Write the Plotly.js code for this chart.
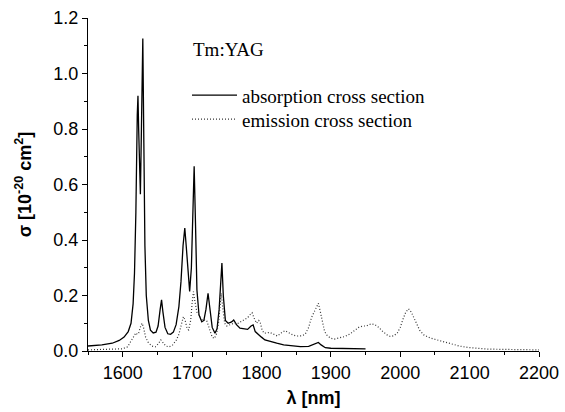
<!DOCTYPE html>
<html>
<head>
<meta charset="utf-8">
<script src="https://cdn.plot.ly/plotly-3.0.1.min.js"></script>
<style>html,body{margin:0;padding:0;background:#fff;}#chart{width:565px;height:412px;}</style>
</head>
<body>
<div id="chart"></div>
<script>
// Absorption cross section (wavelength nm, sigma 1e-20 cm^2)
const absWavelength = [1550,1570,1585,1595,1602,1608,1612,1615,1617,1619,1621,1622,1623,1625.5,1627,1629,1630.5,1632,1634,1637,1640,1644,1648,1651,1654,1656,1658,1661,1665,1669,1673,1677,1681,1684,1687,1689.5,1691.5,1694,1696.5,1699,1701,1703,1705,1707,1710,1714,1717,1720,1723,1726,1729,1733,1736,1739,1741,1743,1745,1748,1752,1757,1760,1764,1769,1775,1780,1785,1788,1791,1795,1800,1805,1812,1822,1832,1845,1856,1868,1876,1882,1886,1892,1900,1920,1935,1950];
const absSigma = [0.018,0.022,0.028,0.038,0.05,0.07,0.1,0.17,0.28,0.5,0.85,0.92,0.8,0.565,0.8,1.126,0.75,0.38,0.2,0.11,0.075,0.065,0.068,0.09,0.15,0.184,0.14,0.085,0.062,0.06,0.068,0.095,0.16,0.25,0.38,0.443,0.38,0.28,0.215,0.3,0.5,0.666,0.45,0.22,0.13,0.105,0.11,0.15,0.208,0.14,0.085,0.064,0.08,0.15,0.26,0.317,0.2,0.11,0.1,0.105,0.112,0.095,0.082,0.08,0.078,0.09,0.094,0.07,0.06,0.05,0.04,0.034,0.028,0.022,0.018,0.016,0.017,0.024,0.031,0.022,0.012,0.01,0.009,0.009,0.008];

// Emission cross section
const emWavelength = [1550,1580,1600,1607,1612,1616,1619,1621,1623,1626,1628,1630,1633,1637,1642,1647,1651,1655,1658,1662,1667,1672,1677,1681,1684,1687.5,1690,1693,1695,1698,1700,1702,1704,1707,1711,1715,1718,1721,1725,1729,1732,1735,1738,1740,1742,1744,1747,1750,1755,1760,1765,1770,1775,1780,1784,1786.5,1790,1793,1796,1798,1801,1804,1812,1818,1823,1829,1834,1840,1846,1852,1858,1863,1868,1872,1876,1880,1882,1885,1888,1891,1895,1900,1905,1912,1920,1928,1935,1940,1946,1951,1955,1959,1964,1969,1975,1981,1986,1991,1996,2000,2004,2008,2012,2016,2020,2024,2028,2034,2043,2053,2062,2072,2085,2097,2110,2125,2145,2170,2200];
const emSigma = [0.004,0.005,0.008,0.015,0.035,0.055,0.065,0.06,0.065,0.09,0.1,0.085,0.05,0.03,0.018,0.015,0.025,0.04,0.03,0.018,0.015,0.022,0.038,0.06,0.09,0.124,0.11,0.08,0.076,0.11,0.17,0.214,0.18,0.14,0.125,0.11,0.112,0.11,0.08,0.05,0.045,0.06,0.1,0.17,0.208,0.16,0.1,0.09,0.095,0.1,0.098,0.105,0.11,0.12,0.132,0.138,0.115,0.1,0.11,0.105,0.075,0.064,0.067,0.06,0.054,0.066,0.073,0.065,0.057,0.054,0.055,0.06,0.085,0.12,0.14,0.165,0.172,0.14,0.1,0.07,0.055,0.046,0.043,0.047,0.052,0.062,0.075,0.085,0.09,0.09,0.095,0.098,0.094,0.085,0.07,0.058,0.052,0.055,0.066,0.085,0.115,0.14,0.152,0.14,0.118,0.095,0.075,0.058,0.047,0.04,0.033,0.027,0.018,0.013,0.009,0.007,0.006,0.005,0.004];

const seriesNames = ["absorption cross section", "emission cross section"];
const xTickVals = [1600,1700,1800,1900,2000,2100,2200];
const yTickVals = [0.0,0.2,0.4,0.6,0.8,1.0,1.2];

const traces = [
  {x: absWavelength, y: absSigma, name: seriesNames[0], mode: 'lines', type: 'scatter',
   legend: 'legend', line: {color: '#000', width: 1.3}},
  {x: emWavelength, y: emSigma, name: seriesNames[1], mode: 'lines', type: 'scatter',
   legend: 'legend2', line: {color: '#333', width: 1.2, dash: '1px,2px'}}
];

const sans = 'Liberation Sans, Arial, sans-serif';
const serif = 'Liberation Serif, Times New Roman, serif';
const legendStyle = (y) => ({x: 0.2195, y: y, xanchor: 'left', yanchor: 'top',
           bgcolor: 'rgba(0,0,0,0)', borderwidth: 0,
           font: {family: serif, size: 19, color: '#000'},
           itemwidth: 45});

const layout = {
  width: 565, height: 412,
  margin: {l: 88, r: 26, t: 18, b: 61},
  paper_bgcolor: '#fff', plot_bgcolor: '#fff',
  showlegend: true,
  legend: legendStyle(0.825),
  legend2: legendStyle(0.753),
  xaxis: {range: [1550, 2200], tickvals: xTickVals, showgrid: false, zeroline: false,
          showline: true, linecolor: '#000', linewidth: 1,
          ticks: 'outside', ticklen: 5, tickcolor: '#000', tickwidth: 1,
          minor: {ticks: 'outside', ticklen: 3, dtick: 50, tick0: 1550, tickcolor: '#000', showgrid: false},
          tickfont: {family: sans, size: 18, color: '#000'},
          title: {text: '<b>λ [nm]</b>', font: {family: sans, size: 18, color: '#000'}, standoff: 9}},
  yaxis: {range: [0, 1.2], tickvals: yTickVals, tickformat: '.1f', showgrid: false, zeroline: false,
          showline: true, linecolor: '#000', linewidth: 1,
          ticks: 'outside', ticklen: 5, tickcolor: '#000', tickwidth: 1,
          minor: {ticks: 'outside', ticklen: 3, dtick: 0.1, tick0: 0, tickcolor: '#000', showgrid: false},
          tickfont: {family: sans, size: 18, color: '#000'},
          title: {text: '<b>σ [10<sup>-20</sup> cm<sup>2</sup>]</b>', font: {family: sans, size: 18, color: '#000'}, standoff: 17}},
  annotations: [
    {text: 'Tm:YAG', xref: 'paper', yref: 'paper', x: 0.228, y: 0.905, xanchor: 'left', yanchor: 'middle',
     showarrow: false, font: {family: serif, size: 19, color: '#000'}}
  ]
};

Plotly.newPlot('chart', traces, layout, {staticPlot: true, displayModeBar: false});
</script>
</body>
</html>
